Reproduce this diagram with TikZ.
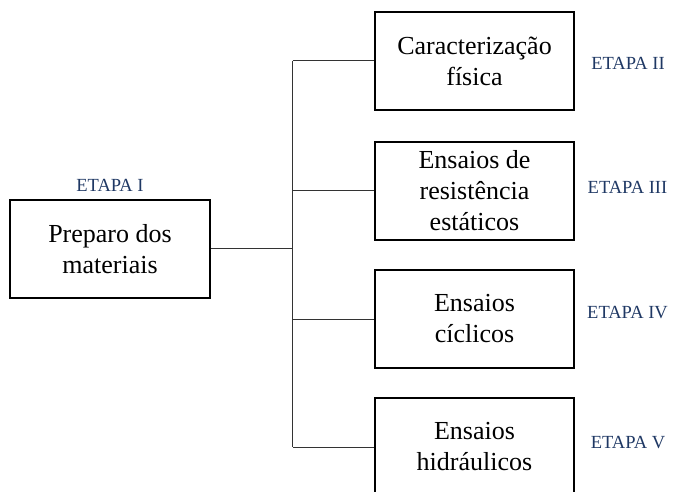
\documentclass[tikz,border=0pt]{standalone}
\usepackage{fontspec}
\setmainfont{Liberation Serif}
\usepackage{xcolor}
\definecolor{etapablue}{RGB}{31,56,100}

\begin{document}
\begin{tikzpicture}[x=1pt,y=-1pt,
	etapa/.style={draw,line width=1.8pt,align=center,minimum width=199pt,minimum height=98pt,inner sep=0pt,font=\fontsize{26}{31}\selectfont},
	rotulo/.style={text=etapablue,inner sep=0pt,font=\fontsize{18.5}{22}\selectfont},
	ligacao/.style={draw=black!80,line width=1pt}]
	\useasboundingbox (0,0) rectangle (673,492);
	\clip (0,0) rectangle (673,492);
	\node[etapa,minimum width=200pt] (prep) at (110,249) {Preparo dos\\materiais};
	\node[etapa] (car) at (474.5,61) {Caracterização\\física};
	\node[etapa] (res) at (474.5,191) {Ensaios de\\resistência\\estáticos};
	\node[etapa] (cic) at (474.5,319) {Ensaios\\cíclicos};
	\node[etapa] (hid) at (474.5,447) {Ensaios\\hidráulicos};
	\node[rotulo] (e1) at (110,185) {ETAPA I};
	\node[rotulo] (e2) at (628,63) {ETAPA II};
	\node[rotulo] (e3) at (627.5,187) {ETAPA III};
	\node[rotulo] (e4) at (627.5,313) {ETAPA IV};
	\node[rotulo] (e5) at (628,443) {ETAPA V};
	\coordinate (tronco) at (292.5,249);
	\draw[ligacao] (prep.east) -- (tronco);
	\draw[ligacao] (tronco |- car) -- (tronco |- hid);
	\draw[ligacao] (tronco |- car) -- (car.west);
	\draw[ligacao] (tronco |- res) -- (res.west);
	\draw[ligacao] (tronco |- cic) -- (cic.west);
	\draw[ligacao] (tronco |- hid) -- (hid.west);
\end{tikzpicture}
\end{document}
